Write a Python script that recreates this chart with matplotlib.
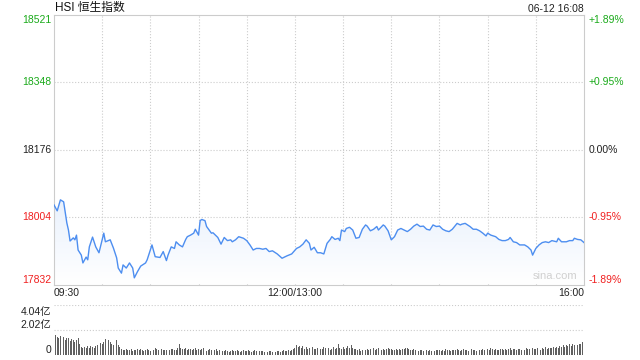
import numpy as np
import matplotlib.pyplot as plt

minutes = [0, 2, 4, 6, 8, 9, 10, 12, 13, 14, 15, 17, 18, 20, 21, 22, 24, 26, 28, 30,
           31, 32, 35, 37, 39, 40, 42, 43, 45, 47, 49, 50, 52, 54, 57, 58, 60, 61, 63, 66,
           68, 70, 71, 73, 75, 76, 78, 80, 82, 83, 85, 87, 88, 90, 91, 92, 94, 95, 98, 99,
           101, 102, 104, 106, 108, 110, 111, 113, 115, 118, 120, 122, 124, 126, 128, 130,
           132, 134, 136, 139, 142, 145, 148, 151, 153, 155, 157, 159, 160, 162, 164, 166,
           168, 170, 172, 173, 175, 177, 178, 179, 181, 182, 184, 186, 188, 190, 192, 194,
           195, 197, 199, 201, 202, 205, 206, 208, 210, 212, 214, 216, 218, 220, 222, 224,
           226, 228, 230, 232, 234, 236, 238, 240, 242, 244, 246, 248, 251, 253, 254, 256,
           259, 261, 263, 265, 267, 269, 270, 272, 275, 277, 279, 281, 283, 284, 286, 288,
           290, 293, 295, 297, 298, 300, 302, 304, 306, 308, 310, 313, 314, 316, 319, 321,
           323, 324, 326, 328, 330]
prices = [18035, 18020, 18048, 18043, 17989, 17971, 17943, 17951, 17946, 17958, 17920, 17907,
          17887, 17902, 17895, 17928, 17953, 17928, 17913, 17946, 17963, 17941, 17946, 17925,
          17900, 17874, 17861, 17882, 17874, 17887, 17874, 17849, 17865, 17879, 17887, 17895,
          17920, 17933, 17903, 17901, 17916, 17893, 17907, 17928, 17924, 17941, 17933, 17928,
          17947, 17954, 17958, 17963, 17973, 17958, 17995, 17998, 17995, 17980, 17963, 17964,
          17956, 17952, 17935, 17952, 17944, 17946, 17941, 17946, 17954, 17950, 17944, 17933,
          17920, 17924, 17924, 17922, 17924, 17916, 17918, 17910, 17899, 17905, 17910, 17924,
          17928, 17935, 17946, 17937, 17920, 17927, 17913, 17913, 17910, 17937, 17947, 17954,
          17947, 17950, 17944, 17971, 17967, 17975, 17978, 17971, 17950, 17952, 17973, 17984,
          17981, 17969, 17973, 17980, 17971, 17984, 17981, 17969, 17946, 17954, 17971, 17975,
          17971, 17967, 17973, 17981, 17986, 17980, 17981, 17973, 17971, 17984, 17980, 17981,
          17973, 17969, 17967, 17973, 17988, 17984, 17986, 17988, 17980, 17973, 17973, 17969,
          17963, 17956, 17963, 17958, 17954, 17947, 17944, 17944, 17947, 17952, 17941, 17939,
          17933, 17933, 17928, 17920, 17907, 17924, 17933, 17939, 17941, 17939, 17944, 17941,
          17950, 17941, 17941, 17944, 17944, 17950, 17947, 17946, 17939]

# volume per minute, 亿
volume = [4.04, 1.62, 1.48, 1.35, 1.55, 1.30, 1.42, 1.18, 1.36, 1.40,
          1.12, 1.28, 1.22, 1.02, 1.20, 1.38, 0.92, 0.68, 0.58, 0.62,
          0.55, 0.70, 0.60, 0.74, 0.64, 0.58, 0.72, 0.82, 0.60, 0.98,
          0.88, 1.08, 1.30, 0.96, 1.18, 1.06, 0.90, 0.78, 0.98, 1.22,
          0.84, 0.66, 0.52, 0.44, 0.40, 0.46, 0.38, 0.42, 0.48, 0.36,
          0.44, 0.40, 0.50, 0.38, 0.46, 0.42, 0.34, 0.40, 0.52, 0.44,
          0.36, 0.42, 0.38, 0.55, 0.46, 0.40, 0.34, 0.48, 0.42, 0.38,
          0.44, 0.36, 0.40, 0.46, 0.50, 0.38, 0.42, 0.56, 0.86, 0.60,
          0.52, 0.48, 0.55, 0.44, 0.50, 0.46, 0.40, 0.52, 0.58, 0.44,
          0.50, 0.42, 0.46, 0.54, 0.40, 0.36, 0.44, 0.48, 0.38, 0.34,
          0.40, 0.46, 0.32, 0.38, 0.42, 0.30, 0.36, 0.40, 0.34, 0.28,
          0.34, 0.38, 0.30, 0.36, 0.42, 0.32, 0.28, 0.34, 0.38, 0.30,
          0.36, 0.44, 0.32, 0.28, 0.34, 0.40, 0.30, 0.26, 0.32, 0.36,
          0.30, 0.28, 0.34, 0.26, 0.30, 0.36, 0.28, 0.32, 0.26, 0.30,
          0.34, 0.28, 0.32, 0.38, 0.30, 0.36, 0.42, 0.34, 0.40, 0.48,
          0.56, 0.80, 0.62, 0.70, 0.58, 0.76, 0.52, 0.64, 0.48, 0.56,
          0.44, 0.62, 0.50, 0.46, 0.58, 0.42, 0.50, 0.46, 0.62, 0.54,
          0.48, 0.58, 0.44, 0.52, 0.66, 0.50, 0.60, 0.88, 0.54, 0.48,
          0.62, 0.50, 0.56, 0.72, 0.60, 0.84, 0.58, 0.52, 0.46, 0.40,
          0.48, 0.36, 0.44, 0.52, 0.40, 0.46, 0.38, 0.50, 0.44, 0.56,
          0.42, 0.48, 0.54, 0.46, 0.40, 0.52, 0.44, 0.48, 0.56, 0.50,
          0.46, 0.40, 0.44, 0.50, 0.38, 0.46, 0.42, 0.48, 0.52, 0.60,
          0.54, 0.48, 0.44, 0.40, 0.46, 0.38, 0.42, 0.36, 0.44, 0.40,
          0.34, 0.42, 0.38, 0.36, 0.44, 0.32, 0.40, 0.36, 0.42, 0.38,
          0.44, 0.36, 0.40, 0.34, 0.46, 0.38, 0.42, 0.36, 0.40, 0.44,
          0.38, 0.46, 0.42, 0.36, 0.40, 0.48, 0.38, 0.44, 0.34, 0.40,
          0.46, 0.38, 0.42, 0.36, 1.90, 0.44, 0.40, 0.48, 0.42, 0.52,
          0.46, 0.40, 0.54, 0.48, 0.42, 0.50, 0.44, 0.38, 0.46, 0.52,
          0.44, 0.48, 0.40, 0.46, 0.54, 0.42, 0.50, 0.46, 0.40, 0.48,
          0.52, 0.44, 0.48, 0.42, 0.56, 0.46, 0.50, 0.44, 0.60, 0.52,
          0.48, 0.56, 0.50, 0.44, 0.58, 0.52, 0.62, 0.48, 0.56, 0.60,
          0.54, 0.64, 0.58, 0.66, 0.60, 0.72, 0.64, 0.80, 0.68, 0.84,
          0.74, 0.88, 0.70, 0.92, 0.78, 0.96, 0.82, 0.90, 0.86, 1.02,
          4.04]

price_ticks = [18521, 18348, 18176, 18004, 17832]
pct_labels = ["+1.89%", "+0.95%", "0.00%", "-0.95%", "-1.89%"]
tick_colors = ["#1aaa1a", "#1aaa1a", "#222222", "#f02020", "#f02020"]
time_ticks = [0, 150, 330]
time_labels = ["09:30", "12:00/13:00", "16:00"]
vol_ticks = [4.04, 2.02, 0]
vol_labels = ["4.04亿", "2.02亿", "0"]

plt.rcParams["font.family"] = ["Liberation Sans", "Noto Sans CJK SC", "DejaVu Sans"]
grid_c = "#cccccc"

fig = plt.figure(figsize=(6.4, 3.6), dpi=100)
ax = fig.add_axes([54 / 640, 75.5 / 360, 530 / 640, 270 / 360])
ax.set_xlim(0, 330)
ax.set_ylim(17832, 18521)

line_c = "#4d8ef0"
poly = ax.fill_between(minutes, prices, 17832, facecolor="none", edgecolor="none")
grad = np.linspace(0, 1, 256).reshape(-1, 1)
cmap = plt.matplotlib.colors.LinearSegmentedColormap.from_list("g", ["#ffffff", "#e9f1fd"])
im = ax.imshow(grad, extent=[0, 330, 17832, max(prices)], origin="lower", aspect="auto",
               cmap=cmap, zorder=1)
im.set_clip_path(poly.get_paths()[0], transform=ax.transData)
ax.plot(minutes, prices, color=line_c, linewidth=1.0, zorder=3)

for t in range(30, 330, 30):
    ax.axvline(t, color=grid_c, linestyle=":", linewidth=0.8, zorder=0)
for p in price_ticks[1:-1]:
    ax.axhline(p, color=grid_c, linestyle=":", linewidth=0.8, zorder=0)

ax.set_xticks([])
ax.set_yticks([])
for s in ax.spines.values():
    s.set_color(grid_c)
    s.set_linewidth(0.8)

vas = ["top", "center", "center", "center", "bottom"]
for p, lab, c, va in zip(price_ticks, pct_labels, tick_colors, vas):
    ax.text(-1.5, p, str(p), ha="right", va=va, fontsize=7.5, color=c)
    ax.text(333, p, lab, ha="left", va=va, fontsize=7.5, color=c)

has = ["left", "center", "right"]
for t, lab, h in zip(time_ticks, time_labels, has):
    ax.text(t, 17832 - 8, lab, ha=h, va="top", fontsize=7.5, color="#222222")

ax.text(0.5, 18521 + 16, "HSI 恒生指数", ha="left", va="center", fontsize=8.5, color="#111111")
ax.text(330, 18521 + 14, "06-12 16:08", ha="right", va="center", fontsize=7.5, color="#222222")
ax.text(326, 17840, "sina.com", ha="right", va="bottom", fontsize=8, color="#d0d0d0")

vax = fig.add_axes([54 / 640, 5 / 360, 530 / 640, 50 / 360])
vax.set_xlim(0, 330)
vax.set_ylim(0, 4.04)
vax.bar(range(len(volume)), volume, width=0.55, color="#606060", zorder=2)
for v in vol_ticks[:2]:
    vax.axhline(v, color=grid_c, linestyle=":", linewidth=0.8, zorder=0)
vax.set_xticks([])
vax.set_yticks([])
for s in vax.spines.values():
    s.set_visible(False)
vvas = ["top", "bottom", "bottom"]
for v, lab, va in zip(vol_ticks, vol_labels, vvas):
    vax.text(-1.5, v - (0.2 if va == "top" else 0), lab, ha="right", va=va, fontsize=7.5,
             color="#222222")

fig.savefig("out.png", dpi=100)
